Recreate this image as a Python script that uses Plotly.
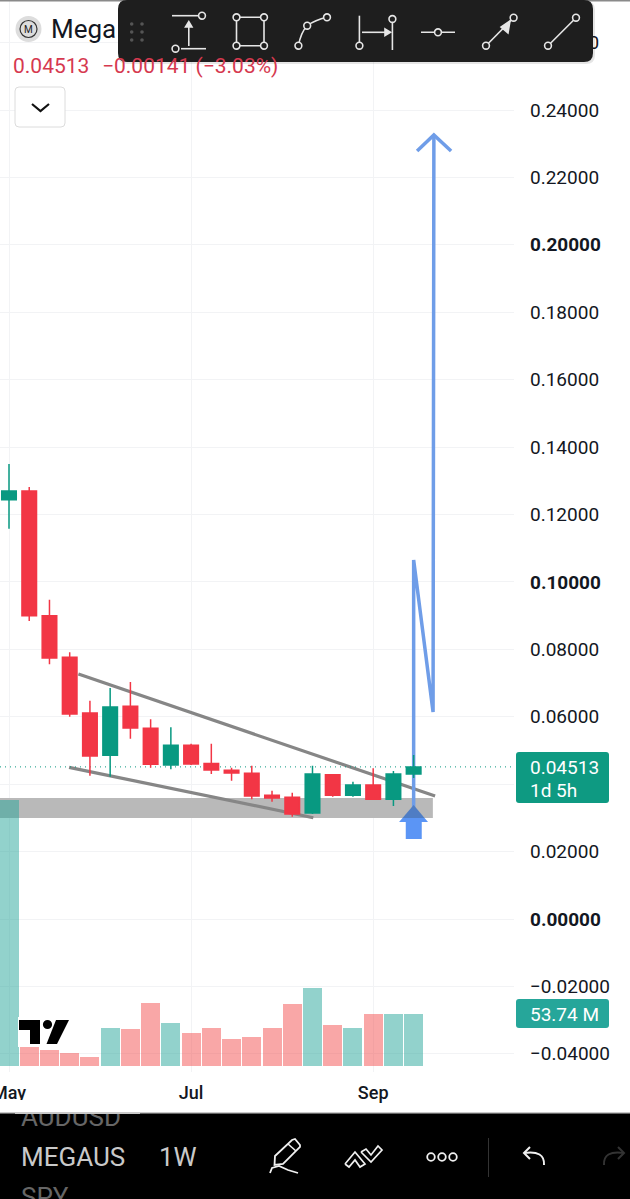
import plotly.graph_objects as go

# ---------- data ----------
week_index = list(range(21))
opens  = [.12439,.12697,.08998,.07764,.06111,.04857,.06310,.05657,.04569,.05153,.04613,.04411,.04322,.03670,.03610,.03145,.04281,.03670,.03975,.03551,.04302]
highs  = [.13498,.12816,.09473,.07912,.06476,.06853,.07031,.05925,.05687,.05201,.05201,.04489,.04548,.03806,.03747,.04548,.04302,.04073,.04471,.04391,.04865]
lows   = [.11579,.08841,.07556,.06002,.04251,.04222,.05349,.04489,.04441,.04569,.04302,.04103,.03551,.03480,.03035,.03115,.03628,.03628,.03530,.03352,.04183]
closes = [.12697,.08998,.07743,.06082,.04836,.06289,.05666,.04589,.05153,.04598,.04420,.04331,.03649,.03590,.03115,.04302,.03670,.03975,.03551,.04302,.04513]
volume_m = [273.3,29.4,16.4,13.7,9.0,38.7,37.7,64.7,44.2,34.2,39.4,27.4,29.9,38.7,63.4,80.4,42.2,39.3,53.1,53.74,53.74]
last_price = .04513
price_ticks = [-.04,-.02,0,.02,.04,.06,.08,.10,.12,.14,.16,.18,.20,.22,.24,.26]
# the 0.04000 label sits behind the price pill in the reference, so it stays blank
price_labels = ["−0.04000","−0.02000","<b>0.00000</b>","0.02000","","0.06000","0.08000","<b>0.10000</b>","0.12000","0.14000","0.16000","0.18000","<b>0.20000</b>","0.22000","0.24000","0.26000"]
month_ticks = [0,9,18]
month_labels = ["May","Jul","Sep"]
upper_x, upper_y = [3.43,21.06],[.07268,.03649]
lower_x, lower_y = [2.97,15.04],[.04500,.03005]
zone_x = [-0.45,20.95]
zone_y = [.02996,.03590]
path_x = [20.0,20.0,20.96,21.0]
path_y = [.03234,.10650,.06141,.23259]
head_x = [20.17,21.0,21.85]
head_y = [.22784,.23259,.22784]
apex_x = [20.0,19.45,20.54,20.0]
apex_y = [.03382,.02996,.02996,.03382]
tail_x = [19.45,19.28,19.61,19.61,20.40,20.40,20.71,20.54,19.45]
tail_y = [.02996,.02878,.02878,.02373,.02373,.02878,.02878,.02996,.02996]

W, H_PLOT, RIGHT = 630, 1072, 514
X = lambda p: p / RIGHT
Y = lambda p: (H_PLOT - p) / H_PLOT
F = "Roboto"
INK = "#131722"
GREEN, RED = "#089981", "#f23645"

fig = go.Figure()
# drawings (lowest subplot)
fig.add_trace(go.Scatter(x=upper_x, y=upper_y, mode="lines", line=dict(color="#868686", width=3.2), yaxis="y", hoverinfo="skip"))
fig.add_trace(go.Scatter(x=lower_x, y=lower_y, mode="lines", line=dict(color="#868686", width=3.2), yaxis="y", hoverinfo="skip"))
fig.add_trace(go.Scatter(x=path_x, y=path_y, mode="lines", line=dict(color="#6f9de8", width=3.5), yaxis="y", hoverinfo="skip"))
fig.add_trace(go.Scatter(x=head_x, y=head_y, mode="lines", line=dict(color="#6f9de8", width=3.5), yaxis="y", hoverinfo="skip"))
fig.add_trace(go.Scatter(x=apex_x, y=apex_y, mode="lines", fill="toself", fillcolor="#4f7dc4", line=dict(width=0, color="#4f7dc4"), yaxis="y", hoverinfo="skip"))
fig.add_trace(go.Scatter(x=tail_x, y=tail_y, mode="lines", fill="toself", fillcolor="#5b95f5", line=dict(width=0, color="#5b95f5"), yaxis="y", hoverinfo="skip"))
fig.add_trace(go.Scatter(x=[-0.4449, 24.96], y=[last_price, last_price], mode="lines", line=dict(color=GREEN, width=1, dash="1px 4px"), yaxis="y", hoverinfo="skip"))
# volume
fig.add_trace(go.Bar(x=week_index, y=volume_m, width=0.94, yaxis="y2",
                     marker=dict(color=["rgba(38,166,154,.5)" if c >= o else "rgba(242,72,72,.48)" for o, c in zip(opens, closes)], line=dict(width=0)),
                     hoverinfo="skip"))
# candles
fig.add_trace(go.Candlestick(x=week_index, open=opens, high=highs, low=lows, close=closes, yaxis="y3",
                             increasing=dict(line=dict(color=GREEN, width=1.5), fillcolor=GREEN),
                             decreasing=dict(line=dict(color=RED, width=1.5), fillcolor=RED),
                             whiskerwidth=0, hoverinfo="skip"))

yr = [(919-H_PLOT)/3370.8, 919/3370.8]
shapes, ann = [], []
def rect(x0,y0,x1,y1,fill,line=None,lw=0,layer="above"):
    shapes.append(dict(type="rect",xref="paper",yref="paper",x0=X(x0),x1=X(x1),y0=Y(y1),y1=Y(y0),fillcolor=fill,
                       line=dict(color=line or fill,width=lw),layer=layer))
def rrect(x0,y0,x1,y1,r,fill,line=None,lw=0,layer="above"):
    d=(f"M{X(x0+r)},{Y(y0)} L{X(x1-r)},{Y(y0)} Q{X(x1)},{Y(y0)} {X(x1)},{Y(y0+r)} L{X(x1)},{Y(y1-r)} Q{X(x1)},{Y(y1)} {X(x1-r)},{Y(y1)} "
       f"L{X(x0+r)},{Y(y1)} Q{X(x0)},{Y(y1)} {X(x0)},{Y(y1-r)} L{X(x0)},{Y(y0+r)} Q{X(x0)},{Y(y0)} {X(x0+r)},{Y(y0)} Z")
    shapes.append(dict(type="path",xref="paper",yref="paper",path=d,fillcolor=fill,line=dict(color=line or fill,width=lw),layer=layer))
def poly(pts,color="#e6e6e6",lw=1.6,fill=None,close=False):
    d="M"+" L".join(f"{X(a)},{Y(b)}" for a,b in pts)+(" Z" if close else "")
    s=dict(type="path",xref="paper",yref="paper",path=d,line=dict(color=color,width=lw),layer="above")
    if fill: s["fillcolor"]=fill
    shapes.append(s)
def dot(cx,cy,r,fill="#1e1e1e",line="#e6e6e6",lw=1.6):
    shapes.append(dict(type="circle",xref="paper",yref="paper",x0=X(cx-r),x1=X(cx+r),y0=Y(cy+r),y1=Y(cy-r),fillcolor=fill,line=dict(color=line,width=lw),layer="above"))
def text(x,y,s,size=19,color=INK,anchor="left",weight=400):
    ann.append(dict(xref="paper",yref="paper",x=X(x),y=Y(y),text=s,showarrow=False,xanchor=anchor,yanchor="middle",
                    font=dict(family=F,size=size,color=color,weight=weight),borderpad=0,borderwidth=0))
def cover(x0,y0,x1,y1,color):
    ann.append(dict(xref="paper",yref="paper",x=X(x0),y=Y(y0),text=" ",showarrow=False,xanchor="left",yanchor="top",
                    width=x1-x0,height=y1-y0,bgcolor=color,borderpad=0,borderwidth=0,font=dict(size=1,color=color)))

# grey support zone
shapes.append(dict(type="rect",xref="x",yref="y",x0=zone_x[0],x1=zone_x[1],y0=zone_y[0],y1=zone_y[1],fillcolor="#b9b9b9",line=dict(width=0),layer="between"))
# header
rect(0,0,630,1.5,"#8a8a8a")
dot(28.5,29,13,fill="#dddddd",line="#dddddd",lw=0)
dot(28.5,29,8.5,fill="#dddddd",line="#333333",lw=1.2)
text(28.5,29,"M",size=10,anchor="center",color="#222222")
text(51,29,"Mega",size=26)
text(13,66,"0.04513",size=21,color="#d6394f")
text(102,66,"−0.00141 (−3.03%)",size=21,color="#d6394f")
rrect(15,87,65,127,4,"#ffffff","#dcdcdc",1)
poly([(32,104),(40.5,111),(49,104)],color="#111111",lw=2.2)
# toolbar
rrect(118,1,595,64,9,"rgba(0,0,0,.10)")
rrect(118,0,593,62,9,"#1e1e1e")
for gx in (131.7,142):
    for gy in (24,32,40):
        dot(gx,gy,1.8,fill="#555555",line="#555555",lw=0)
poly([(172,15.7),(199,15.7)]); dot(202,15.7,3.4)
poly([(181,48.7),(206,48.7)]); dot(175.5,48.7,3.4)
poly([(188.8,46),(188.8,23)]); poly([(185.5,27),(188.8,21.5),(192,27)],fill="#e6e6e6",close=True)
poly([(236.5,17.3),(264,17.3),(264,45.7),(236.5,45.7)],close=True)
for a,b in ((236.5,17.3),(264,17.3),(236.5,45.7),(264,45.7)): dot(a,b,3.4)
shapes.append(dict(type="path",xref="paper",yref="paper",layer="above",line=dict(color="#e6e6e6",width=1.6),
                   path=f"M{X(298.4)},{Y(45.7)} Q{X(301)},{Y(32)} {X(307.2)},{Y(25.7)} Q{X(315)},{Y(20)} {X(327)},{Y(17.3)}"))
dot(298.4,45.7,3.4); dot(307.2,25.7,3.4); dot(327,17.3,3.4)
poly([(359.4,15.7),(359.4,42)]); dot(359.4,45.7,3.4)
poly([(392.4,23),(392.4,50)]); dot(392.4,19,3.4)
poly([(362,32.3),(386,32.3)]); poly([(385,29),(390.5,32.3),(385,35.5)],fill="#e6e6e6",close=True)
poly([(421,32.3),(455,32.3)]); dot(438,32.3,3.4)
poly([(486,45.7),(513.6,17.7)]); poly([(510,21),(501,27),(508,33)],fill="#e6e6e6",close=True); dot(486,45.7,3.4); dot(513.6,17.7,3.4)
poly([(548,45.7),(576,17.7)]); dot(548,45.7,3.4); dot(576,17.7,3.4)
# price pills
rrect(516,752,609,803,3,"#0e9a82")
text(530,767,"0.04513",color="#ffffff"); text(530,790,"1d 5h",color="#ffffff")
rrect(516,999,609,1028,3,"#26a69a")
text(530,1014,"53.74 M",color="#ffffff")
# TradingView mark
rect(18,1017,71,1047,"#ffffff")
poly([(19,1020),(40,1020),(40,1044),(30,1044),(30,1030),(19,1030)],color="#000000",lw=0,fill="#000000",close=True)
dot(47.5,1024.5,4.6,fill="#000000",line="#000000",lw=0)
poly([(56,1020),(69,1020),(57,1044),(46.5,1044)],color="#000000",lw=0,fill="#000000",close=True)
# bottom bar
rect(0,1113,630,1199,"#000000",layer="below")
rect(0,1112,630,1113.5,"#c9c9c9")
text(21,1117,"AUDUSD",size=26,color="#666666")
cover(15,1100,140,1112,"#ffffff")
cover(15,1112,140,1114,"#c9c9c9")
text(21,1157,"MEGAUS",size=26,color="#c9c9c9")
text(159,1157,"1W",size=26,color="#c9c9c9")
text(21,1197,"SPY",size=26,color="#666666")
W_I="#f0f0f0"
poly([(275,1156),(292,1140),(295,1139),(300,1145),(300,1147),(283,1164),(274.5,1165)],color=W_I,lw=1.8,close=True)
poly([(288,1144),(296,1151)],color=W_I,lw=1.6)
poly([(270,1173),(272,1168),(279,1166),(288,1170),(298,1173)],color=W_I,lw=1.8)
poly([(345,1164),(355,1152),(365,1164),(360,1167),(355,1160),(349,1167),(345,1164)],color=W_I,lw=1.7)
poly([(361,1152),(366,1149),(371,1155),(378,1146),(382,1150),(371,1162),(361,1152)],color=W_I,lw=1.7)
for cx in (431,442,453): dot(cx,1157,3.8,fill="#000000",line=W_I,lw=1.8)
rect(488,1138,489,1177,"#333333")
poly([(530,1147),(524,1153),(530,1159)],color=W_I,lw=2)
shapes.append(dict(type="path",xref="paper",yref="paper",layer="above",line=dict(color=W_I,width=2),
                   path=f"M{X(524)},{Y(1153)} Q{X(545)},{Y(1150)} {X(544)},{Y(1165)}"))
poly([(618,1147),(624,1153),(618,1159)],color="#333333",lw=2)
shapes.append(dict(type="path",xref="paper",yref="paper",layer="above",line=dict(color="#333333",width=2),
                   path=f"M{X(624)},{Y(1153)} Q{X(603)},{Y(1150)} {X(604)},{Y(1165)}"))

fig.update_layout(
    width=630, height=1199, autosize=False, showlegend=False, paper_bgcolor="#ffffff", plot_bgcolor="#ffffff",
    margin=dict(l=0, r=W-RIGHT, t=0, b=1199-H_PLOT, pad=0, autoexpand=False), boxgap=0.1, boxgroupgap=0.2, bargap=0,
    xaxis=dict(range=[-0.4449,24.96], domain=[0,1], tickvals=month_ticks, ticktext=month_labels, showgrid=True, gridcolor="#f2f3f5",
               gridwidth=1, zeroline=False, showline=False, ticks="", ticklabelstandoff=8, ticklabeloverflow="allow", rangeslider=dict(visible=False),
               tickfont=dict(family=F,size=18,color=INK,weight=500)),
    yaxis=dict(range=yr, domain=[0,1], side="right", tickvals=price_ticks, ticktext=price_labels, showgrid=True, gridcolor="#f2f3f5",
               gridwidth=1, zeroline=False, showline=False, ticks="", ticklabelstandoff=15, tickfont=dict(family=F,size=19,color=INK)),
    yaxis2=dict(range=[-6.165,1095.3], overlaying="y", visible=False),
    yaxis3=dict(range=yr, overlaying="y", visible=False),
    shapes=shapes, annotations=ann,
)
fig.write_html("out.html", config=dict(displayModeBar=False), post_script="document.body.style.margin='0';")
